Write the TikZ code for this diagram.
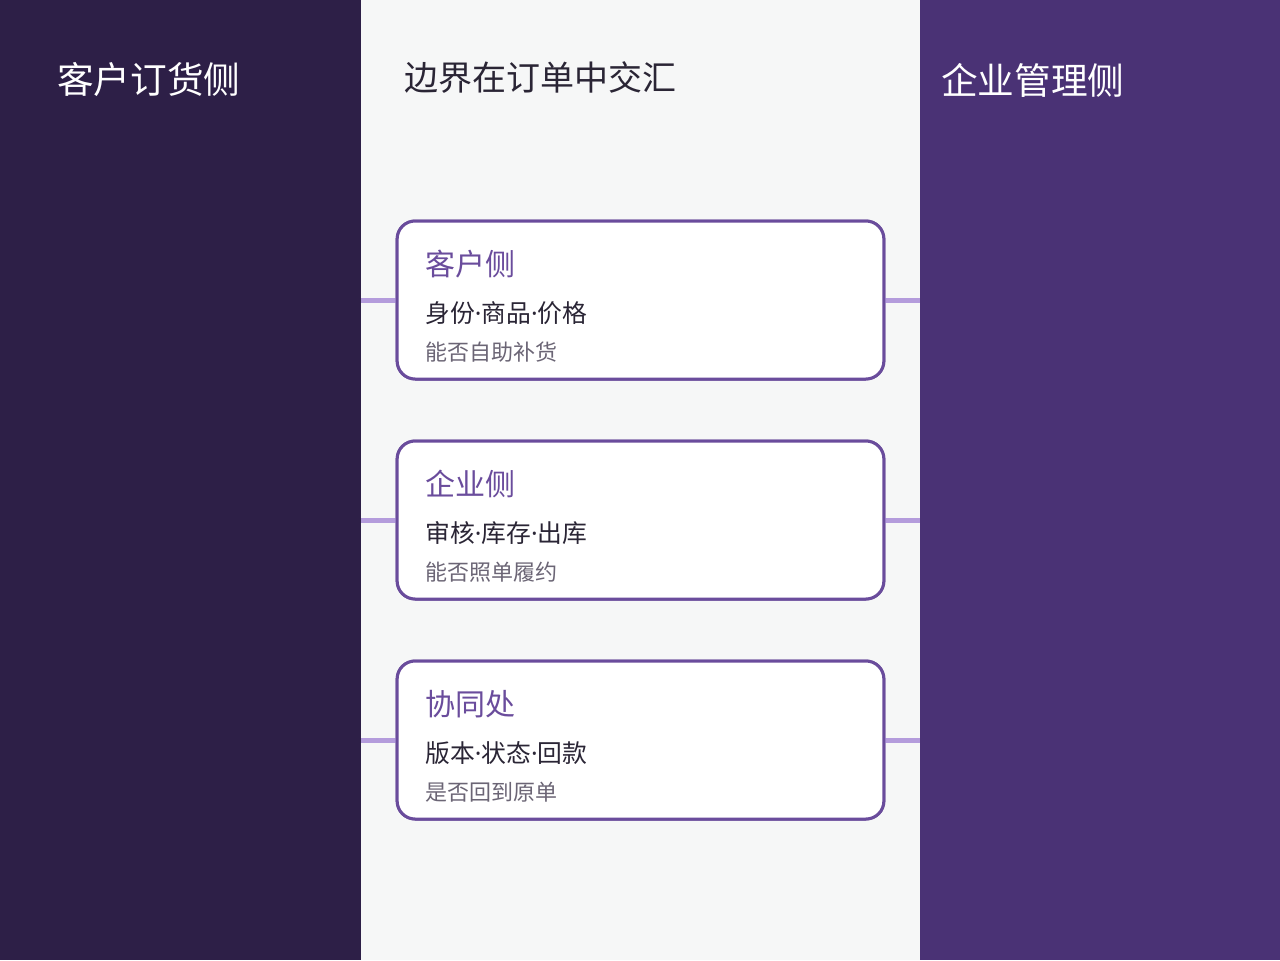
\documentclass[tikz,border=0pt]{standalone}
\usepackage{fontspec}
\setmainfont{Noto Sans CJK SC}
\newfontfamily\dotfont{Noto Sans}
\newcommand{\middot}{{\dotfont ·}}
\usetikzlibrary{positioning}
\definecolor{leftbg}{HTML}{2D1F47}
\definecolor{midbg}{HTML}{F6F7F7}
\definecolor{rightbg}{HTML}{4A3275}
\definecolor{cardedge}{HTML}{6A4C9C}
\definecolor{linkcol}{HTML}{B49CDC}
\definecolor{darktext}{HTML}{2A2535}
\definecolor{greytext}{HTML}{6B6575}
\tikzset{
  card/.style={draw=cardedge, fill=white, line width=2.25pt, rounded corners=13.5pt, minimum width=365pt, minimum height=118.5pt},
  link/.style={draw=linkcol, line width=3.75pt},
  cardtitle/.style={anchor=west, inner sep=0pt, text=cardedge, font=\fontsize{22.5}{24}\selectfont},
  cardmain/.style={anchor=west, inner sep=0pt, text=darktext, font=\fontsize{18.6}{20}\selectfont},
  cardnote/.style={anchor=west, inner sep=0pt, text=greytext, font=\fontsize{16.5}{18}\selectfont}
}

\begin{document}
\begin{tikzpicture}[x=0.75pt, y=-0.75pt]
            \fill[leftbg] (0,0) rectangle (361,960);
            \fill[midbg] (361,0) rectangle (920,960);
            \fill[rightbg] (920,0) rectangle (1280,960);
            \useasboundingbox (0,0) rectangle (1280,960);
            \node[anchor=west, inner sep=0pt, text=white, font=\fontsize{27.5}{30}\selectfont] (lefthead) at (57,80) {客户订货侧};
            \node[anchor=west, inner sep=0pt, text=darktext, font=\fontsize{25.5}{28}\selectfont] (midhead) at (404,78) {边界在订单中交汇};
            \node[anchor=west, inner sep=0pt, text=white, font=\fontsize{27.5}{30}\selectfont] (righthead) at (941,80) {企业管理侧};
            \coordinate (lend1) at (361,300);
            \coordinate (lend2) at (361,520);
            \coordinate (lend3) at (361,740);
            \coordinate (rend1) at (920,300);
            \coordinate (rend2) at (920,520);
            \coordinate (rend3) at (920,740);
            \node[card] (cust) at (640.5,300) {};
            \node[card] (firm) at (640.5,520) {};
            \node[card] (joint) at (640.5,740) {};
            \draw[link] (lend1) -- (cust.west);
            \draw[link] (cust.east) -- (rend1);
            \draw[link] (lend2) -- (firm.west);
            \draw[link] (firm.east) -- (rend2);
            \draw[link] (lend3) -- (joint.west);
            \draw[link] (joint.east) -- (rend3);
            \node[card] at (cust) {};
            \node[card] at (firm) {};
            \node[card] at (joint) {};
            \node[cardtitle] (custtitle) at (425,264) {客户侧};
            \node[cardmain] (custmain) at (425,313) {身份\middot 商品\middot 价格};
            \node[cardnote] (custnote) at (425,352) {能否自助补货};
            \node[cardtitle] (firmtitle) at (425,484) {企业侧};
            \node[cardmain] (firmmain) at (425,533) {审核\middot 库存\middot 出库};
            \node[cardnote] (firmnote) at (425,572) {能否照单履约};
            \node[cardtitle] (jointtitle) at (425,704) {协同处};
            \node[cardmain] (jointmain) at (425,753) {版本\middot 状态\middot 回款};
            \node[cardnote] (jointnote) at (425,792) {是否回到原单};
        \end{tikzpicture}
\end{document}
